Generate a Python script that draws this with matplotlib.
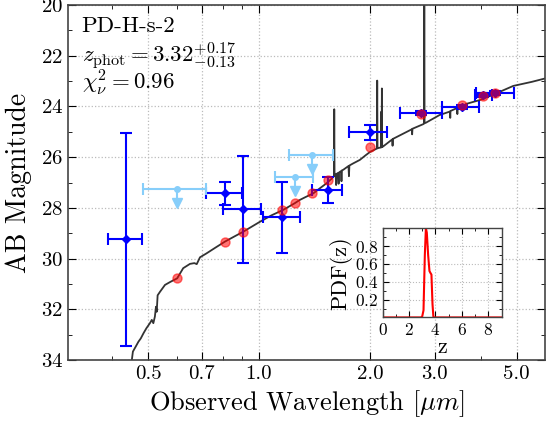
import numpy as np
import matplotlib
matplotlib.use('Agg')
import matplotlib.pyplot as plt
from matplotlib.ticker import FixedLocator, FixedFormatter, LogLocator, MultipleLocator, NullFormatter

plt.rcParams['font.family'] = 'serif'
plt.rcParams['font.serif'] = ['cmr10']
plt.rcParams['mathtext.fontset'] = 'cm'
plt.rcParams['axes.formatter.use_mathtext'] = True

# model spectrum
spec_wave = [0.449, 0.452, 0.455, 0.462, 0.471, 0.478, 0.486, 0.495, 0.506, 0.512, 0.517, 0.522,
             0.5256, 0.528, 0.531, 0.539, 0.556, 0.575, 0.600, 0.623, 0.650, 0.668, 0.678, 0.692,
             0.72, 0.76, 0.809, 0.86, 0.907, 1.006, 1.08, 1.164, 1.25, 1.29, 1.34, 1.404, 1.463,
             1.526, 1.575, 1.598, 1.601, 1.604, 1.615, 1.62, 1.625, 1.64, 1.645, 1.65, 1.67, 1.675,
             1.68, 1.693, 1.75, 1.755, 1.76, 1.80, 1.878, 1.95, 2.0, 2.05, 2.090, 2.094, 2.098,
             2.12, 2.145, 2.150, 2.153, 2.156, 2.160, 2.172, 2.30, 2.305, 2.31, 2.52, 2.60, 2.605,
             2.61, 2.79, 2.805, 2.81, 2.815, 2.84, 3.09, 3.30, 3.305, 3.31, 3.45, 3.455, 3.46,
             3.56, 3.65, 3.97, 4.30, 4.9, 5.5, 6.0]
spec_mag = [34.2, 34.0, 33.67, 33.5, 33.28, 33.15, 32.95, 32.75, 32.55, 32.42, 32.55, 32.29,
            31.9, 32.1, 31.45, 31.31, 31.04, 30.92, 30.78, 30.38, 30.21, 30.18, 30.22, 29.95,
            29.8, 29.58, 29.33, 29.12, 28.94, 28.55, 28.3, 28.08, 27.82, 27.69, 27.57, 27.43, 27.23,
            27.03, 26.85, 26.75, 24.11, 26.72, 26.68, 27.1, 26.66, 26.62, 27.05, 26.6, 26.55, 26.95,
            26.52, 26.5, 26.35, 26.75, 26.33, 26.25, 26.11, 25.92, 25.8, 25.72, 25.66, 22.98, 25.65,
            25.63, 25.62, 24.2, 25.6, 23.29, 25.6, 25.58, 25.3, 25.55, 25.28, 25.0, 24.9, 25.1,
            24.88, 24.7, 24.68, 19.0, 24.66, 24.64, 24.34, 24.2, 24.45, 24.18, 24.06, 24.3, 24.05,
            24.0, 23.9, 23.75, 23.55, 23.19, 23.03, 22.89]

# detections
det_wave = [0.436, 0.809, 0.905, 1.157, 1.536, 2.0, 2.76, 3.56, 4.06, 4.36]
det_mag = [29.24, 27.43, 28.06, 28.37, 27.29, 25.02, 24.27, 24.03, 23.55, 23.46]
det_err = [4.19, 0.45, 2.1, 1.4, 0.52, 0.3, 0.08, 0.08, 0.08, 0.08]
det_lo = [0.390, 0.718, 0.80, 1.023, 1.395, 1.754, 2.42, 3.14, 3.85, 3.89]
det_hi = [0.483, 0.901, 1.011, 1.29, 1.676, 2.22, 3.13, 3.96, 4.29, 4.92]

# upper limits
lim_wave = [0.60, 1.252, 1.395]
lim_mag = [27.26, 26.80, 25.91]
lim_lo = [0.484, 1.105, 1.206]
lim_hi = [0.717, 1.398, 1.591]

# model photometry
mod_wave = [0.598, 0.809, 0.907, 1.157, 1.252, 1.395, 1.536, 2.0, 2.76, 3.56, 4.06, 4.36]
mod_mag = [30.78, 29.36, 28.95, 28.08, 27.82, 27.43, 26.90, 25.59, 24.31, 23.95, 23.59, 23.46]

# redshift PDF
pdf_z = [0, 2.9, 3.0, 3.1, 3.2, 3.28, 3.35, 3.45, 3.55, 3.62, 3.7, 3.78, 3.85, 9.0]
pdf_p = [0, 0, 0.01, 0.08, 0.7, 1.0, 0.95, 0.7, 0.52, 0.5, 0.48, 0.15, 0, 0]

xticks = [0.5, 0.7, 1.0, 2.0, 3.0, 5.0]
xticklabels = ['0.5', '0.7', '1.0', '2.0', '3.0', '5.0']

fig = plt.figure(figsize=(5.56, 4.21), dpi=100)
ax = fig.add_axes([0.122, 0.145, 0.858, 0.843])

ax.plot(spec_wave, spec_mag, color='#333333', lw=1.3, zorder=2)

det_wave = np.array(det_wave)
xerr = [det_wave - np.array(det_lo), np.array(det_hi) - det_wave]
ax.errorbar(det_wave, det_mag, yerr=det_err, xerr=xerr, fmt='D', color='blue', ms=4.5,
            lw=1.5, capsize=4, capthick=1.5, zorder=3)

lim_wave = np.array(lim_wave)
lxerr = [lim_wave - np.array(lim_lo), np.array(lim_hi) - lim_wave]
ax.errorbar(lim_wave, lim_mag, xerr=lxerr, fmt='o', color='#87cefa', ms=4,
            lw=1.5, capsize=4, capthick=1.5, zorder=3)
for w, m in zip(lim_wave, lim_mag):
    ax.plot([w, w], [m, m + 0.55], color='#87cefa', lw=1.5, zorder=3)
    ax.plot(w, m + 0.55, marker='v', color='#87cefa', ms=7, zorder=3)

ax.plot(mod_wave, mod_mag, 'o', color='red', alpha=0.55, ms=6.5, mec='red', zorder=4)

ax.set_xscale('log')
ax.set_xlim(0.303, 5.97)
ax.set_ylim(34, 20)
ax.xaxis.set_major_locator(FixedLocator(xticks))
ax.xaxis.set_major_formatter(FixedFormatter(xticklabels))
ax.xaxis.set_minor_locator(LogLocator(subs=np.arange(2, 10)))
ax.xaxis.set_minor_formatter(NullFormatter())
ax.yaxis.set_major_locator(MultipleLocator(2))
ax.yaxis.set_minor_locator(MultipleLocator(1))
ax.tick_params(which='both', direction='in', top=True, right=True, labelsize=15)
ax.tick_params(which='major', length=6)
ax.tick_params(which='minor', length=3)
ax.grid(True, which='major', ls=':', color='#bbbbbb', lw=0.9)
for s in ax.spines.values():
    s.set_color('#444444')
    s.set_linewidth(1.2)

ax.set_xlabel(r'Observed Wavelength [$\mu m$]', fontsize=19, labelpad=4)
ax.set_ylabel('AB Magnitude', fontsize=20, labelpad=6)

ax.text(0.029, 0.924, 'PD-H-s-2', transform=ax.transAxes, fontsize=16.5, va='baseline')
ax.text(0.029, 0.837, r'$z_{\rm phot}=3.32^{+0.17}_{-0.13}$', transform=ax.transAxes,
        fontsize=16.5, va='baseline')
ax.text(0.029, 0.761, r'$\chi^2_\nu=0.96$', transform=ax.transAxes, fontsize=16.5, va='baseline')

ins = fig.add_axes([0.688, 0.246, 0.214, 0.212])
ins.plot(pdf_z, pdf_p, color='red', lw=1.5)
ins.set_xlim(0, 9)
ins.set_ylim(0, 1.0)
ins.set_xticks([0, 2, 4, 6, 8])
ins.set_yticks([0.2, 0.4, 0.6, 0.8])
ins.xaxis.set_minor_locator(MultipleLocator(1))
ins.yaxis.set_minor_locator(MultipleLocator(0.1))
ins.tick_params(which='both', direction='in', top=True, right=True, labelsize=12.5, pad=3)
ins.tick_params(which='major', length=4)
ins.tick_params(which='minor', length=2)
ins.grid(True, ls=':', color='#bbbbbb', lw=0.8)
ins.set_xlabel('z', fontsize=16, labelpad=0)
ins.set_ylabel('PDF(z)', fontsize=16, labelpad=2)
for s in ins.spines.values():
    s.set_color('#444444')
    s.set_linewidth(1.0)

fig.savefig('out.png', dpi=100)
